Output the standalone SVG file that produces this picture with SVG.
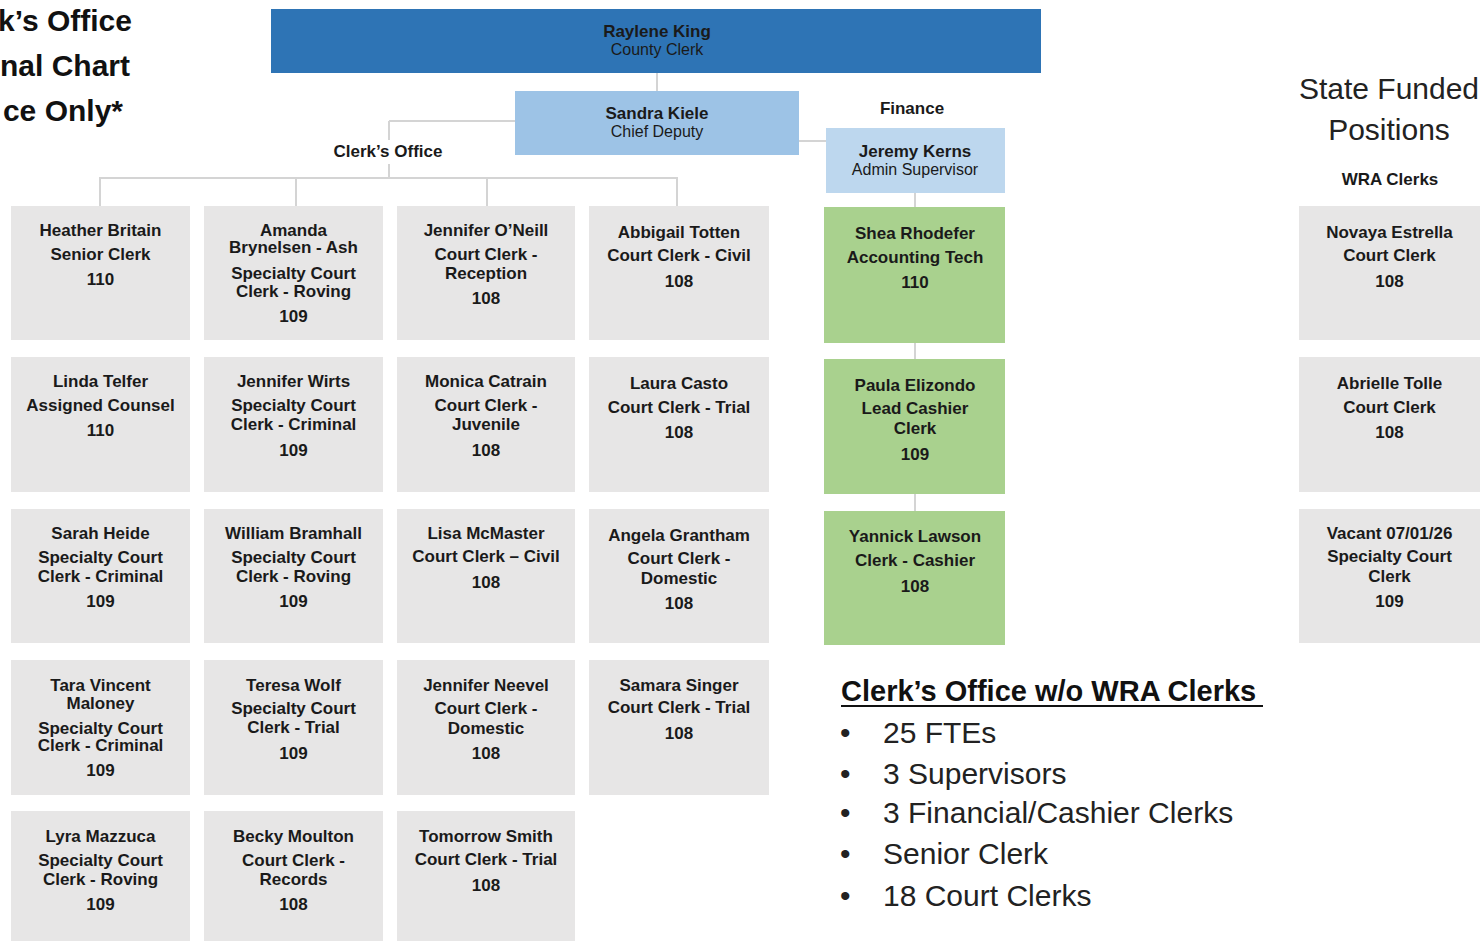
<svg xmlns="http://www.w3.org/2000/svg" width="1483" height="941" viewBox="0 0 1483 941">
<style>
.bg{fill:#ffffff}
.gray{fill:#e7e6e6}
.grn{fill:#a9d18e}
.t{font-family:"Liberation Sans",Arial,sans-serif;font-size:17px;font-weight:bold;fill:#1a1a1a;text-anchor:middle}
.r{font-family:"Liberation Sans",Arial,sans-serif;font-size:16px;fill:#1a1a1a;text-anchor:middle}
.lbl{font-family:"Liberation Sans",Arial,sans-serif;font-size:17px;font-weight:bold;fill:#1a1a1a;text-anchor:middle}
.title{font-family:"Liberation Sans",Arial,sans-serif;font-size:30px;font-weight:bold;fill:#111;text-anchor:end}
.big{font-family:"Liberation Sans",Arial,sans-serif;font-size:30px;fill:#222}
.conn line{stroke:#d4d4d4;stroke-width:2}
</style>
<rect class="bg" x="0" y="0" width="1483" height="941"/>

<g id="title">
<text class="title" x="132" y="31">k’s Office</text>
<text class="title" x="130" y="76">nal Chart</text>
<text class="title" x="123" y="121">ce Only*</text>
</g>

<g id="connectors" class="conn">
<line x1="657" y1="73" x2="657" y2="91"/>
<line x1="389" y1="121" x2="515" y2="121"/>
<line x1="389" y1="121" x2="389" y2="178"/>
<line x1="99" y1="178" x2="678" y2="178"/>
<line x1="100" y1="178" x2="100" y2="206"/>
<line x1="296" y1="178" x2="296" y2="206"/>
<line x1="487" y1="178" x2="487" y2="206"/>
<line x1="677" y1="178" x2="677" y2="206"/>
<line x1="799" y1="141" x2="826" y2="141"/>
<line x1="915" y1="193" x2="915" y2="207"/>
<line x1="915" y1="343" x2="915" y2="359"/>
<line x1="915" y1="494" x2="915" y2="511"/>
</g>

<g id="raylene">
<rect x="271" y="9" width="770" height="64" fill="#2e74b5"/>
<text class="t" x="657" y="37">Raylene King</text>
<text class="r" x="657" y="55">County Clerk</text>
</g>
<g id="sandra">
<rect x="515" y="91" width="284" height="64" fill="#9dc3e6"/>
<text class="t" x="657" y="119">Sandra Kiele</text>
<text class="r" x="657" y="137">Chief Deputy</text>
</g>
<g id="clerks-office-label"><rect x="328" y="140" width="122" height="24" fill="#ffffff"/><text class="lbl" x="388" y="157">Clerk’s Office</text></g>
<g id="finance-label"><text class="lbl" x="912" y="114">Finance</text></g>
<g id="jeremy">
<rect x="826" y="128" width="179" height="65" fill="#bdd7ee"/>
<text class="t" x="915" y="157">Jeremy Kerns</text>
<text class="r" x="915" y="175">Admin Supervisor</text>
</g>

<g id="state-funded">
<text class="big" x="1389" y="99" text-anchor="middle">State Funded</text>
<text class="big" x="1389" y="140" text-anchor="middle">Positions</text>
<text class="lbl" x="1390" y="185">WRA Clerks</text>
</g>

<!-- Column 1 -->
<g id="heather"><rect class="gray" x="11" y="206" width="179" height="134"/>
<text class="t" x="100.5" y="236">Heather Britain</text><text class="t" x="100.5" y="260">Senior Clerk</text><text class="t" x="100.5" y="285">110</text></g>
<g id="linda"><rect class="gray" x="11" y="357" width="179" height="135"/>
<text class="t" x="100.5" y="387">Linda Telfer</text><text class="t" x="100.5" y="411">Assigned Counsel</text><text class="t" x="100.5" y="436">110</text></g>
<g id="sarah"><rect class="gray" x="11" y="509" width="179" height="134"/>
<text class="t" x="100.5" y="539">Sarah Heide</text><text class="t" x="100.5" y="563">Specialty Court</text><text class="t" x="100.5" y="582">Clerk - Criminal</text><text class="t" x="100.5" y="607">109</text></g>
<g id="tara"><rect class="gray" x="11" y="660" width="179" height="135"/>
<text class="t" x="100.5" y="691">Tara Vincent</text><text class="t" x="100.5" y="709">Maloney</text><text class="t" x="100.5" y="734">Specialty Court</text><text class="t" x="100.5" y="751">Clerk - Criminal</text><text class="t" x="100.5" y="776">109</text></g>
<g id="lyra"><rect class="gray" x="11" y="811" width="179" height="130"/>
<text class="t" x="100.5" y="842">Lyra Mazzuca</text><text class="t" x="100.5" y="866">Specialty Court</text><text class="t" x="100.5" y="885">Clerk - Roving</text><text class="t" x="100.5" y="910">109</text></g>

<!-- Column 2 -->
<g id="amanda"><rect class="gray" x="204" y="206" width="179" height="134"/>
<text class="t" x="293.5" y="236">Amanda</text><text class="t" x="293.5" y="253">Brynelsen - Ash</text><text class="t" x="293.5" y="279">Specialty Court</text><text class="t" x="293.5" y="297">Clerk - Roving</text><text class="t" x="293.5" y="322">109</text></g>
<g id="jwirts"><rect class="gray" x="204" y="357" width="179" height="135"/>
<text class="t" x="293.5" y="387">Jennifer Wirts</text><text class="t" x="293.5" y="411">Specialty Court</text><text class="t" x="293.5" y="430">Clerk - Criminal</text><text class="t" x="293.5" y="456">109</text></g>
<g id="william"><rect class="gray" x="204" y="509" width="179" height="134"/>
<text class="t" x="293.5" y="539">William Bramhall</text><text class="t" x="293.5" y="563">Specialty Court</text><text class="t" x="293.5" y="582">Clerk - Roving</text><text class="t" x="293.5" y="607">109</text></g>
<g id="teresa"><rect class="gray" x="204" y="660" width="179" height="135"/>
<text class="t" x="293.5" y="691">Teresa Wolf</text><text class="t" x="293.5" y="714">Specialty Court</text><text class="t" x="293.5" y="733">Clerk - Trial</text><text class="t" x="293.5" y="759">109</text></g>
<g id="becky"><rect class="gray" x="204" y="811" width="179" height="130"/>
<text class="t" x="293.5" y="842">Becky Moulton</text><text class="t" x="293.5" y="866">Court Clerk -</text><text class="t" x="293.5" y="885">Records</text><text class="t" x="293.5" y="910">108</text></g>

<!-- Column 3 -->
<g id="joneill"><rect class="gray" x="397" y="206" width="178" height="134"/>
<text class="t" x="486" y="236">Jennifer O’Neill</text><text class="t" x="486" y="260">Court Clerk -</text><text class="t" x="486" y="279">Reception</text><text class="t" x="486" y="304">108</text></g>
<g id="monica"><rect class="gray" x="397" y="357" width="178" height="135"/>
<text class="t" x="486" y="387">Monica Catrain</text><text class="t" x="486" y="411">Court Clerk -</text><text class="t" x="486" y="430">Juvenile</text><text class="t" x="486" y="456">108</text></g>
<g id="lisa"><rect class="gray" x="397" y="509" width="178" height="134"/>
<text class="t" x="486" y="539">Lisa McMaster</text><text class="t" x="486" y="562">Court Clerk – Civil</text><text class="t" x="486" y="588">108</text></g>
<g id="jneevel"><rect class="gray" x="397" y="660" width="178" height="135"/>
<text class="t" x="486" y="691">Jennifer Neevel</text><text class="t" x="486" y="714">Court Clerk -</text><text class="t" x="486" y="734">Domestic</text><text class="t" x="486" y="759">108</text></g>
<g id="tomorrow"><rect class="gray" x="397" y="811" width="178" height="130"/>
<text class="t" x="486" y="842">Tomorrow Smith</text><text class="t" x="486" y="865">Court Clerk - Trial</text><text class="t" x="486" y="891">108</text></g>

<!-- Column 4 -->
<g id="abbigail"><rect class="gray" x="589" y="206" width="180" height="134"/>
<text class="t" x="679" y="238">Abbigail Totten</text><text class="t" x="679" y="261">Court Clerk - Civil</text><text class="t" x="679" y="287">108</text></g>
<g id="laura"><rect class="gray" x="589" y="357" width="180" height="135"/>
<text class="t" x="679" y="389">Laura Casto</text><text class="t" x="679" y="413">Court Clerk - Trial</text><text class="t" x="679" y="438">108</text></g>
<g id="angela"><rect class="gray" x="589" y="509" width="180" height="134"/>
<text class="t" x="679" y="541">Angela Grantham</text><text class="t" x="679" y="564">Court Clerk -</text><text class="t" x="679" y="584">Domestic</text><text class="t" x="679" y="609">108</text></g>
<g id="samara"><rect class="gray" x="589" y="660" width="180" height="135"/>
<text class="t" x="679" y="691">Samara Singer</text><text class="t" x="679" y="713">Court Clerk - Trial</text><text class="t" x="679" y="739">108</text></g>

<!-- Finance -->
<g id="shea"><rect class="grn" x="824" y="207" width="181" height="136"/>
<text class="t" x="915" y="239">Shea Rhodefer</text><text class="t" x="915" y="263">Accounting Tech</text><text class="t" x="915" y="288">110</text></g>
<g id="paula"><rect class="grn" x="824" y="359" width="181" height="135"/>
<text class="t" x="915" y="391">Paula Elizondo</text><text class="t" x="915" y="414">Lead Cashier</text><text class="t" x="915" y="434">Clerk</text><text class="t" x="915" y="460">109</text></g>
<g id="yannick"><rect class="grn" x="824" y="511" width="181" height="134"/>
<text class="t" x="915" y="542">Yannick Lawson</text><text class="t" x="915" y="566">Clerk - Cashier</text><text class="t" x="915" y="592">108</text></g>

<!-- WRA -->
<g id="novaya"><rect class="gray" x="1299" y="206" width="181" height="134"/>
<text class="t" x="1389.5" y="238">Novaya Estrella</text><text class="t" x="1389.5" y="261">Court Clerk</text><text class="t" x="1389.5" y="287">108</text></g>
<g id="abrielle"><rect class="gray" x="1299" y="357" width="181" height="135"/>
<text class="t" x="1389.5" y="389">Abrielle Tolle</text><text class="t" x="1389.5" y="413">Court Clerk</text><text class="t" x="1389.5" y="438">108</text></g>
<g id="vacant"><rect class="gray" x="1299" y="509" width="181" height="134"/>
<text class="t" x="1389.5" y="539">Vacant 07/01/26</text><text class="t" x="1389.5" y="562">Specialty Court</text><text class="t" x="1389.5" y="582">Clerk</text><text class="t" x="1389.5" y="607">109</text></g>

<g id="summary">
<text x="841" y="701" font-family="Liberation Sans, Arial, sans-serif" font-size="29" font-weight="bold" fill="#111">Clerk’s Office w/o WRA Clerks</text>
<line x1="841" y1="706" x2="1263" y2="706" stroke="#111" stroke-width="2"/>
<text class="big" x="840" y="743">•</text><text class="big" x="883" y="743">25 FTEs</text>
<text class="big" x="840" y="784">•</text><text class="big" x="883" y="784">3 Supervisors</text>
<text class="big" x="840" y="823">•</text><text class="big" x="883" y="823">3 Financial/Cashier Clerks</text>
<text class="big" x="840" y="864">•</text><text class="big" x="883" y="864">Senior Clerk</text>
<text class="big" x="840" y="906">•</text><text class="big" x="883" y="906">18 Court Clerks</text>
</g>
</svg>
